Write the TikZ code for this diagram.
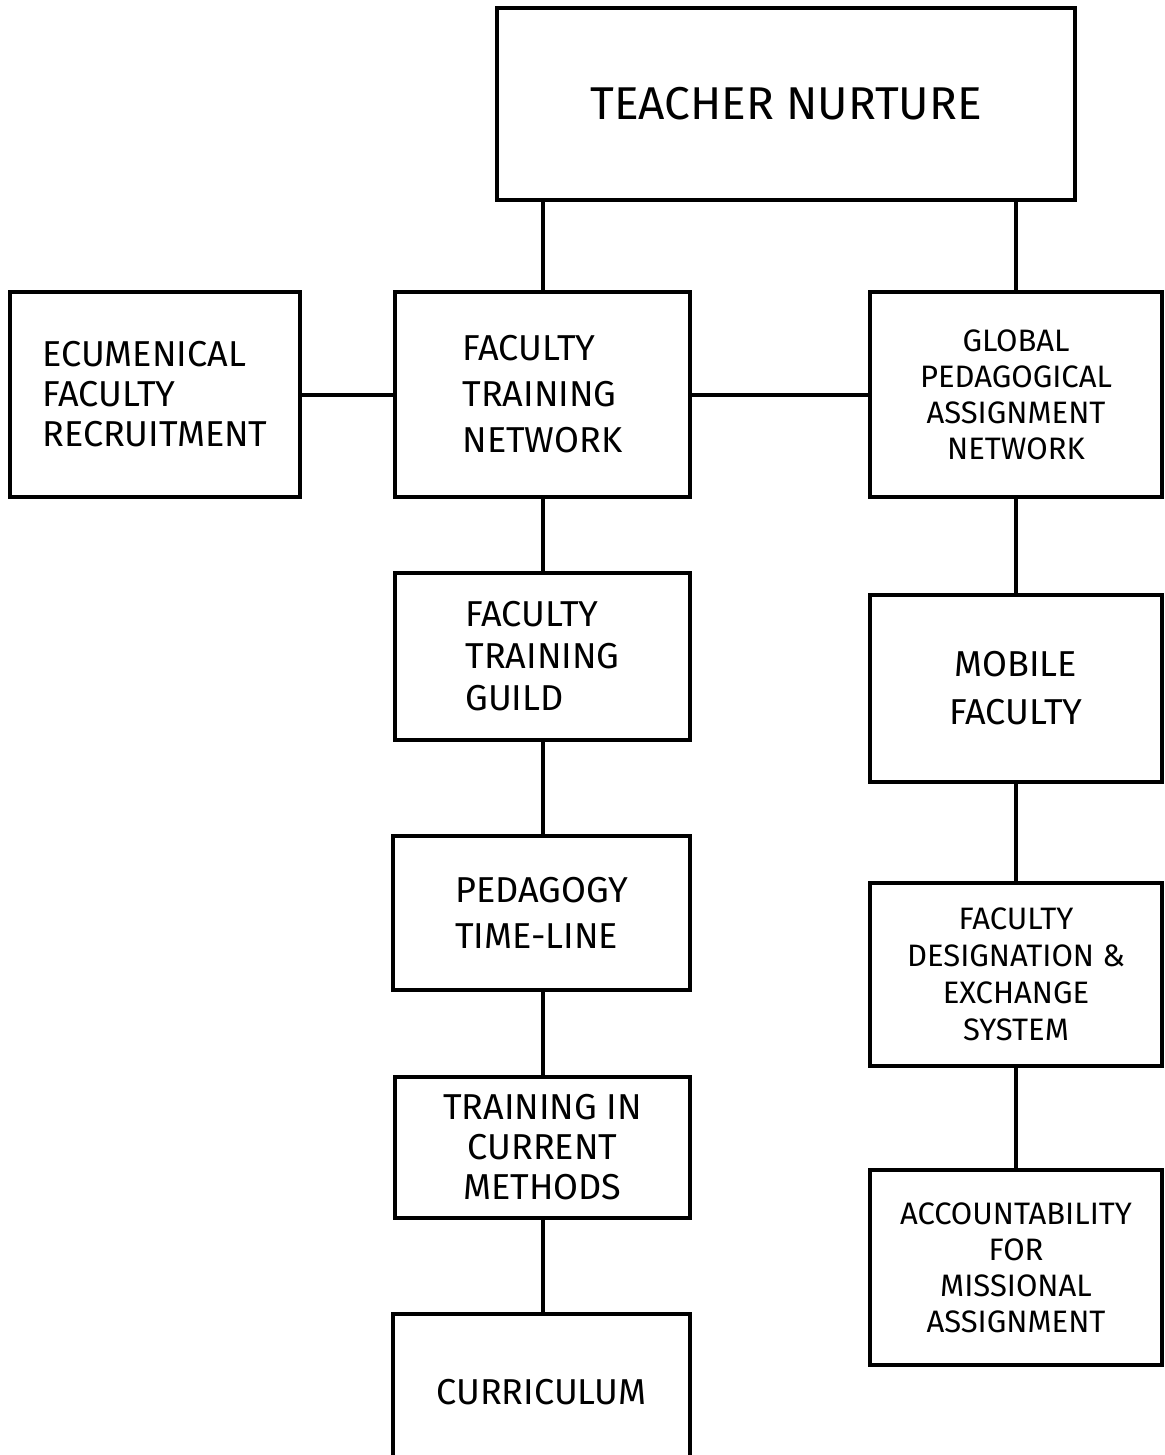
\documentclass[tikz,border=0pt]{standalone}
\usepackage{fontspec}
\setmainfont{Fira Sans}
\begin{document}
\begin{tikzpicture}[x=0.5pt,y=-0.5pt,
  box/.style={draw=black,line width=2pt,inner sep=0pt,font=\fontsize{17}{20}\selectfont},
  link/.style={line width=2pt}]
\useasboundingbox (0,0) rectangle (1164,1455);
\clip (0,0) rectangle (1164,1455);
\node[box,minimum width=289pt,minimum height=96pt,font=\fontsize{23}{26}\selectfont] (tn) at (786,104) {TEACHER NURTURE};
\node[box,minimum width=145pt,minimum height=102.5pt,align=left,font=\fontsize{18}{20}\selectfont] (efr) at (155,394.5) {ECUMENICAL\\FACULTY\\RECRUITMENT};
\node[box,minimum width=147.5pt,minimum height=102.5pt,align=left,font=\fontsize{18}{23}\selectfont] (ftn) at (542.5,394.5) {FACULTY\\TRAINING\\NETWORK};
\node[box,minimum width=146pt,minimum height=102.5pt,align=center,font=\fontsize{15.5}{18}\selectfont] (gpan) at (1016,394.5) {GLOBAL\\PEDAGOGICAL\\ASSIGNMENT\\NETWORK};
\node[box,minimum width=147.5pt,minimum height=83.5pt,align=left,font=\fontsize{18}{21}\selectfont] (ftg) at (542.5,656.5) {FACULTY\\TRAINING\\GUILD};
\node[box,minimum width=146pt,minimum height=93.5pt,align=center,font=\fontsize{18}{24}\selectfont] (mf) at (1016,688.5) {MOBILE\\FACULTY};
\node[box,minimum width=148.5pt,minimum height=77pt,align=left,font=\fontsize{18}{23}\selectfont] (ptl) at (541.5,913) {PEDAGOGY\\TIME-LINE};
\node[box,minimum width=146pt,minimum height=91.5pt,align=center,font=\fontsize{15.5}{18.5}\selectfont] (fdes) at (1016,974.5) {FACULTY\\DESIGNATION \&\\EXCHANGE\\SYSTEM};
\node[box,minimum width=147.5pt,minimum height=70.5pt,align=center,font=\fontsize{18}{20}\selectfont] (tcm) at (542.5,1147.5) {TRAINING IN\\CURRENT\\METHODS};
\node[box,minimum width=146pt,minimum height=97.5pt,align=center,font=\fontsize{15.5}{18}\selectfont] (ama) at (1016,1267.5) {ACCOUNTABILITY\\FOR\\MISSIONAL\\ASSIGNMENT};
\node[box,minimum width=148.5pt,minimum height=78pt,align=center,font=\fontsize{18}{20}\selectfont] (cur) at (541.5,1392) {CURRICULUM};
\draw[link] (tn.south -| ftn.north) -- (ftn.north);
\draw[link] (tn.south -| gpan.north) -- (gpan.north);
\draw[link] (efr.east) -- (ftn.west);
\draw[link] (ftn.east) -- (gpan.west);
\draw[link] (ftn.south) -- (ftg.north);
\draw[link] (ftg.south) -- (ptl.north -| ftg.south);
\draw[link] (ptl.south -| tcm.north) -- (tcm.north);
\draw[link] (tcm.south) -- (cur.north -| tcm.south);
\draw[link] (gpan.south) -- (mf.north);
\draw[link] (mf.south) -- (fdes.north);
\draw[link] (fdes.south) -- (ama.north);
\end{tikzpicture}
\end{document}
